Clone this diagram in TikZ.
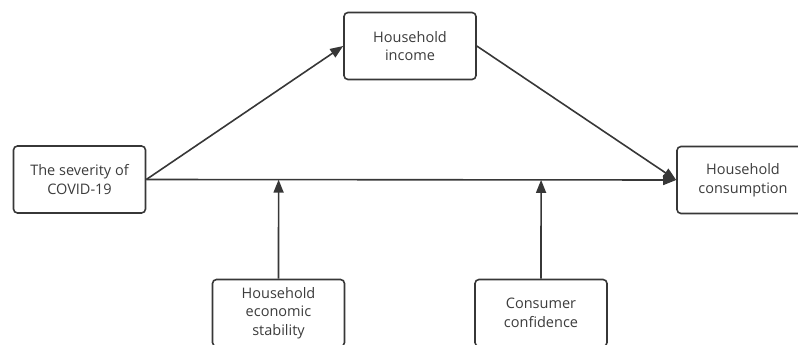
\documentclass[tikz,border=0pt]{standalone}
\usepackage{fontspec}
\setmainfont{Open Sans}
\usetikzlibrary{arrows.meta,calc}
\definecolor{boxline}{RGB}{55,55,55}
\definecolor{boxtext}{RGB}{60,60,60}

\tikzset{
  factor/.style={draw=boxline, line width=1.6pt, rounded corners=4pt, fill=white,
    minimum width=132pt, minimum height=67pt, align=center, text=boxtext,
    font=\fontsize{14.5}{18.5}\selectfont, inner sep=2pt},
  link/.style={draw=boxline, line width=1.6pt, -{Triangle[length=13pt,width=10pt]}}
}

\begin{document}
\begin{tikzpicture}[x=1pt,y=-1pt]
    \useasboundingbox (0,0) rectangle (798,345);
    \clip (0,0) rectangle (798,345);
    % boxes, centres in pixel coordinates
    \node[factor] (sev)  at (79.5,179.5) {The severity of\\COVID-19};
    \node[factor] (inc)  at (410,46)     {Household\\income};
    \node[factor] (cons) at (743,180)    {Household\\consumption};
    \node[factor] (stab) at (278.5,313)  {Household\\economic\\stability};
    \node[factor] (conf) at (541,313)    {Consumer\\confidence};
    % mediating path
    \draw[link] (sev.east) -- (inc.west);
    \draw[link] (inc.east) -- (cons.west);
    % direct path
    \draw[link] (sev.east) -- (cons.west);
    % moderators hit the direct path
    \coordinate (hitstab) at ($(sev.east)!(stab.north)!(cons.west)$);
    \coordinate (hitconf) at ($(sev.east)!(conf.north)!(cons.west)$);
    \draw[link] (stab.north) -- (hitstab);
    \draw[link] (conf.north) -- (hitconf);
  \end{tikzpicture}
\end{document}
